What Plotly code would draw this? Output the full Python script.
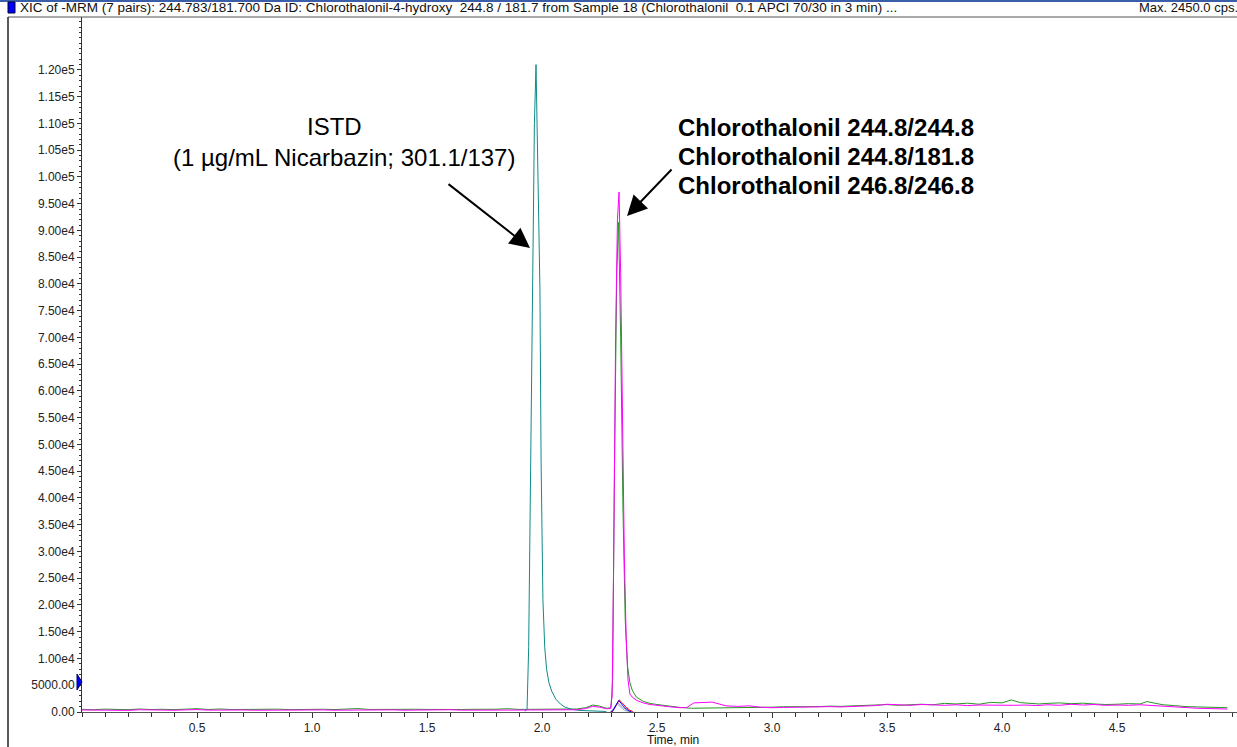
import plotly.graph_objects as go

# ---------------- data ----------------
green_time = [0.00, 0.05, 0.10, 0.15, 0.20, 0.25, 0.30, 0.35, 0.40, 0.45,
              0.50, 0.55, 0.60, 0.65, 0.70, 0.75, 0.80, 0.85, 0.90, 0.95,
              1.00, 1.05, 1.10, 1.15, 1.20, 1.25, 1.30, 1.35, 1.40, 1.45,
              1.50, 1.55, 1.60, 1.65, 1.70, 1.75, 1.80, 1.85, 1.90, 1.95,
              2.00, 2.05, 2.10, 2.15, 2.19, 2.22, 2.25, 2.28,
              2.300, 2.307, 2.315, 2.325, 2.333, 2.342, 2.352, 2.362, 2.372, 2.382, 2.392,
              2.41, 2.44, 2.47,
              2.50, 2.55, 2.60, 2.65, 2.70, 2.75, 2.80, 2.85, 2.90, 2.95,
              3.00, 3.05, 3.10, 3.15, 3.20, 3.25, 3.30, 3.35, 3.40, 3.45,
              3.50, 3.55, 3.60, 3.65, 3.70, 3.75, 3.80, 3.85, 3.90, 3.95, 4.00,
              4.04, 4.08, 4.12, 4.16, 4.20,
              4.25, 4.30, 4.35, 4.40, 4.45, 4.50, 4.55, 4.60,
              4.63, 4.67, 4.70,
              4.75, 4.80, 4.85, 4.90, 4.95, 4.98]
green_int = [500, 420, 540, 470, 430, 560, 460, 510, 440, 530,
             620, 470, 560, 460, 500, 450, 480, 530, 440, 500,
             470, 510, 460, 490, 640, 470, 500, 540, 460, 510,
             480, 520, 570, 470, 500, 460, 520, 620, 480, 500,
             490, 520, 510, 560, 800, 1300, 1100, 700,
             800, 6000, 45000, 82000, 91500, 70000, 38000, 17000, 8500, 5500, 4100,
             2800, 2000, 1600,
             1400, 1100, 850, 700, 720, 680, 700, 740, 800, 850,
             900, 980, 950, 1050, 1000, 1100, 1050, 1150, 1200, 1300,
             1380, 1250, 1400, 1450, 1350, 1620, 1500, 1650, 1450, 1800, 1700,
             2250, 1750, 1600, 1500, 1620,
             1700, 1550, 1650, 1500, 1400, 1450, 1560, 1500,
             1950, 1600, 1350,
             1200, 1000, 950, 900, 850, 800]

magenta_time = [0.00, 0.05, 0.10, 0.15, 0.20, 0.25, 0.30, 0.35, 0.40, 0.45,
                0.50, 0.55, 0.60, 0.65, 0.70, 0.75, 0.80, 0.85, 0.90, 0.95,
                1.00, 1.05, 1.10, 1.15, 1.20, 1.25, 1.30, 1.35, 1.40, 1.45,
                1.50, 1.55, 1.60, 1.65, 1.70, 1.75, 1.80, 1.85, 1.90, 1.95,
                2.00, 2.05, 2.10, 2.15, 2.19, 2.22, 2.25, 2.28,
                2.298, 2.305, 2.312, 2.320, 2.328, 2.335, 2.342, 2.350, 2.358, 2.366, 2.374, 2.382, 2.392,
                2.41, 2.44, 2.47,
                2.50, 2.55, 2.60, 2.63, 2.66, 2.70, 2.74, 2.77, 2.80, 2.85, 2.90, 2.95, 3.00,
                3.05, 3.10, 3.15, 3.20, 3.25, 3.30, 3.35, 3.40, 3.45, 3.50,
                3.55, 3.60, 3.65, 3.70, 3.75, 3.80, 3.85, 3.90, 3.95, 4.00,
                4.05, 4.10, 4.15, 4.20, 4.25, 4.30, 4.35, 4.40, 4.45, 4.50,
                4.55, 4.60, 4.65, 4.70, 4.75, 4.80, 4.85, 4.90, 4.95, 4.98]
magenta_int = [380, 330, 400, 350, 310, 420, 360, 380, 330, 390,
               450, 350, 400, 340, 380, 330, 360, 400, 330, 370,
               350, 390, 340, 370, 420, 350, 380, 400, 340, 380,
               360, 390, 420, 350, 380, 340, 390, 430, 360, 380,
               370, 400, 380, 420, 650, 1050, 900, 600,
               650, 3000, 30000, 70000, 92000, 97200, 82000, 50000, 29000, 14000, 6000, 3400, 2800,
               2200, 1700, 1400,
               1200, 1000, 800, 850, 1700, 1800, 1850, 1500, 1150, 1050, 1150, 900, 800,
               850, 900, 950, 900, 1000, 950, 1050, 1100, 1200, 1450,
               1300, 1250, 1400, 1300, 1250, 1350, 1200, 1300, 1250, 1300,
               1250, 1300, 1200, 1350, 1250, 1450, 1300, 1400, 1250, 1300,
               1250, 1350, 1200, 1100, 1000, 800, 700, 650, 600, 550]

teal_time = [1.925, 1.935, 1.942, 1.950, 1.959, 1.967, 1.974, 1.981, 1.991, 1.996,
             2.004, 2.012, 2.020, 2.030, 2.042, 2.060, 2.080, 2.100, 2.130, 2.160,
             2.200, 2.240, 2.280]
teal_int = [150, 500, 12000, 45000, 79000, 110000, 121000, 105000, 79000, 47000,
            21000, 12000, 8000, 5500, 3900, 2400, 1500, 900, 500, 300,
            200, 150, 100]

blue_time = [2.300, 2.310, 2.320, 2.334, 2.346, 2.360, 2.375, 2.390]
blue_int = [0, 300, 1200, 2150, 1500, 800, 300, 0]
red_time = [2.305, 2.320, 2.336, 2.350, 2.365, 2.380, 2.396]
red_int = [0, 1000, 2250, 1650, 900, 400, 0]
lightblue_time = [2.295, 2.310, 2.326, 2.342, 2.360, 2.380]
lightblue_int = [0, 600, 1500, 900, 300, 0]
gray_time = [2.300, 2.316, 2.330, 2.350, 2.370, 2.386]
gray_int = [0, 700, 1700, 900, 300, 0]

x_tickvals = [0.5, 1.0, 1.5, 2.0, 2.5, 3.0, 3.5, 4.0, 4.5]
x_ticktext = ["0.5", "1.0", "1.5", "2.0", "2.5", "3.0", "3.5", "4.0", "4.5"]
y_tickvals = [0, 5000, 10000, 15000, 20000, 25000, 30000, 35000, 40000, 45000,
              50000, 55000, 60000, 65000, 70000, 75000, 80000, 85000, 90000, 95000,
              100000, 105000, 110000, 115000, 120000]
y_ticktext = ["0.00", "5000.00", "1.00e4", "1.50e4", "2.00e4", "2.50e4", "3.00e4", "3.50e4",
              "4.00e4", "4.50e4", "5.00e4", "5.50e4", "6.00e4", "6.50e4", "7.00e4", "7.50e4",
              "8.00e4", "8.50e4", "9.00e4", "9.50e4", "1.00e5", "1.05e5", "1.10e5", "1.15e5",
              "1.20e5"]

header_text = ("XIC of -MRM (7 pairs): 244.783/181.700 Da ID: Chlorothalonil-4-hydroxy  244.8 / 181.7 "
               "from Sample 18 (Chlorothalonil  0.1 APCI 70/30 in 3 min) ...")
max_text = "Max. 2450.0 cps."
istd_line1 = "ISTD"
istd_line2 = "(1 µg/mL Nicarbazin; 301.1/137)"
chloro_labels = ["Chlorothalonil 244.8/244.8", "Chlorothalonil 244.8/181.8", "Chlorothalonil 246.8/246.8"]

# ---------------- figure ----------------
W, H = 1237, 747
L, R, T, B = 82, 0, 17, 35
X_MAX = 5.0217
Y_MAX = 129900

FONT = "Liberation Sans, Arial, sans-serif"

fig = go.Figure()


def add(t, v, color, name):
    fig.add_trace(go.Scatter(x=t, y=v, mode="lines", name=name,
                             line=dict(color=color, width=1), hoverinfo="skip"))


add(lightblue_time, lightblue_int, "#8fb0e6", "lightblue")
add(gray_time, gray_int, "#a0a0a0", "gray")
add(red_time, red_int, "#ff0000", "red")
add(blue_time, blue_int, "#0000ff", "blue")
add(green_time, green_int, "#229922", "green")
add(teal_time, teal_int, "#108a8a", "teal")
add(magenta_time, magenta_int, "#ff00ff", "magenta")


def px2x(px):
    return (px - L) / 230.0


def py2y(py):
    return (712 - py) / 26.75 * 5000


def ppx(px):
    return (px - L) / (W - L - R)


def ppy(py):
    return (H - B - py) / (H - T - B)


ann = []
# header
ann.append(dict(xref="paper", yref="paper", x=ppx(18), y=ppy(8), xanchor="left", yanchor="middle",
                text=header_text, showarrow=False, font=dict(family=FONT, size=13.5, color="#111")))
ann.append(dict(xref="paper", yref="paper", x=ppx(1240), y=ppy(8), xanchor="right", yanchor="middle",
                text=max_text, showarrow=False, font=dict(family=FONT, size=13, color="#111")))
# axis title
ann.append(dict(xref="paper", yref="paper", x=ppx(673), y=ppy(740), xanchor="center", yanchor="middle",
                text="Time, min", showarrow=False, font=dict(family=FONT, size=12, color="#111")))
# ISTD labels
ann.append(dict(xref="x", yref="y", x=px2x(334), y=py2y(127), xanchor="center", yanchor="middle",
                text=istd_line1, showarrow=False, font=dict(family=FONT, size=24, color="#000")))
ann.append(dict(xref="x", yref="y", x=px2x(344), y=py2y(158), xanchor="center", yanchor="middle",
                text=istd_line2, showarrow=False, font=dict(family=FONT, size=24, color="#000")))
for i, lab in enumerate(chloro_labels):
    ann.append(dict(xref="x", yref="y", x=px2x(676), y=py2y(128 + 29 * i), xanchor="left", yanchor="middle",
                    text="<b>" + lab + "</b>", showarrow=False, font=dict(family=FONT, size=24, color="#000")))
# arrows
ann.append(dict(xref="x", yref="y", x=px2x(530), y=py2y(248), axref="x", ayref="y",
                ax=px2x(447), ay=py2y(183), text="", showarrow=True, arrowhead=2,
                arrowsize=2, arrowwidth=2, arrowcolor="#000", standoff=0))
ann.append(dict(xref="x", yref="y", x=px2x(627), y=py2y(216), axref="x", ayref="y",
                ax=px2x(673), ay=py2y(168), text="", showarrow=True, arrowhead=2,
                arrowsize=2, arrowwidth=2, arrowcolor="#000", standoff=0))

shapes = []
# top strip from the screenshot
shapes.append(dict(type="rect", xref="paper", yref="paper", x0=ppx(0), x1=ppx(1237), y0=ppy(2), y1=ppy(0),
                   fillcolor="#3a5fa8", line=dict(width=0), layer="above"))
# frame lines
shapes.append(dict(type="line", xref="paper", yref="paper", x0=ppx(8), x1=ppx(1237), y0=ppy(17), y1=ppy(17),
                   line=dict(color="#555", width=1)))
shapes.append(dict(type="line", xref="paper", yref="paper", x0=ppx(8), x1=ppx(8), y0=ppy(17), y1=ppy(747),
                   line=dict(color="#222", width=1.5)))
# blue square in header
shapes.append(dict(type="rect", xref="paper", yref="paper", x0=ppx(8), x1=ppx(15), y0=ppy(13), y1=ppy(2),
                   fillcolor="#0000ff", line=dict(color="#000033", width=1)))
# blue threshold marker on the y axis
shapes.append(dict(type="path", xref="paper", yref="paper",
                   path="M {a},{b} L {c},{d} L {a},{e} Z".format(a=ppx(77), b=ppy(674), c=ppx(82), d=ppy(682),
                                                                 e=ppy(690)),
                   fillcolor="#0000ff", line=dict(color="#000066", width=1)))

axis_font = dict(family=FONT, size=12, color="#222")

fig.update_layout(
    width=W, height=H,
    margin=dict(l=L, r=R, t=T, b=B, pad=0, autoexpand=False),
    paper_bgcolor="white", plot_bgcolor="white",
    showlegend=False,
    annotations=ann,
    shapes=shapes,
    xaxis=dict(range=[0, X_MAX], tickmode="array", tickvals=x_tickvals, ticktext=x_ticktext,
               automargin=False,
               showgrid=False, zeroline=False, showline=True, linecolor="#555", linewidth=1,
               ticks="outside", ticklen=5, tickcolor="#333", tickfont=axis_font,
               minor=dict(dtick=0.1, tick0=0, ticks="outside", ticklen=4, tickcolor="#333", showgrid=False)),
    yaxis=dict(range=[0, Y_MAX], tickmode="array", tickvals=y_tickvals, ticktext=y_ticktext,
               automargin=False,
               showgrid=False, zeroline=False, showline=True, linecolor="#333", linewidth=1,
               ticks="outside", ticklen=4, tickcolor="#333", tickfont=axis_font,
               minor=dict(dtick=1000, tick0=0, ticks="outside", ticklen=2, tickcolor="#333", showgrid=False)),
)

fig.write_html("out.html",
               config={"displayModeBar": False},
               post_script="document.body.style.margin='0';document.body.style.overflow='hidden';")
